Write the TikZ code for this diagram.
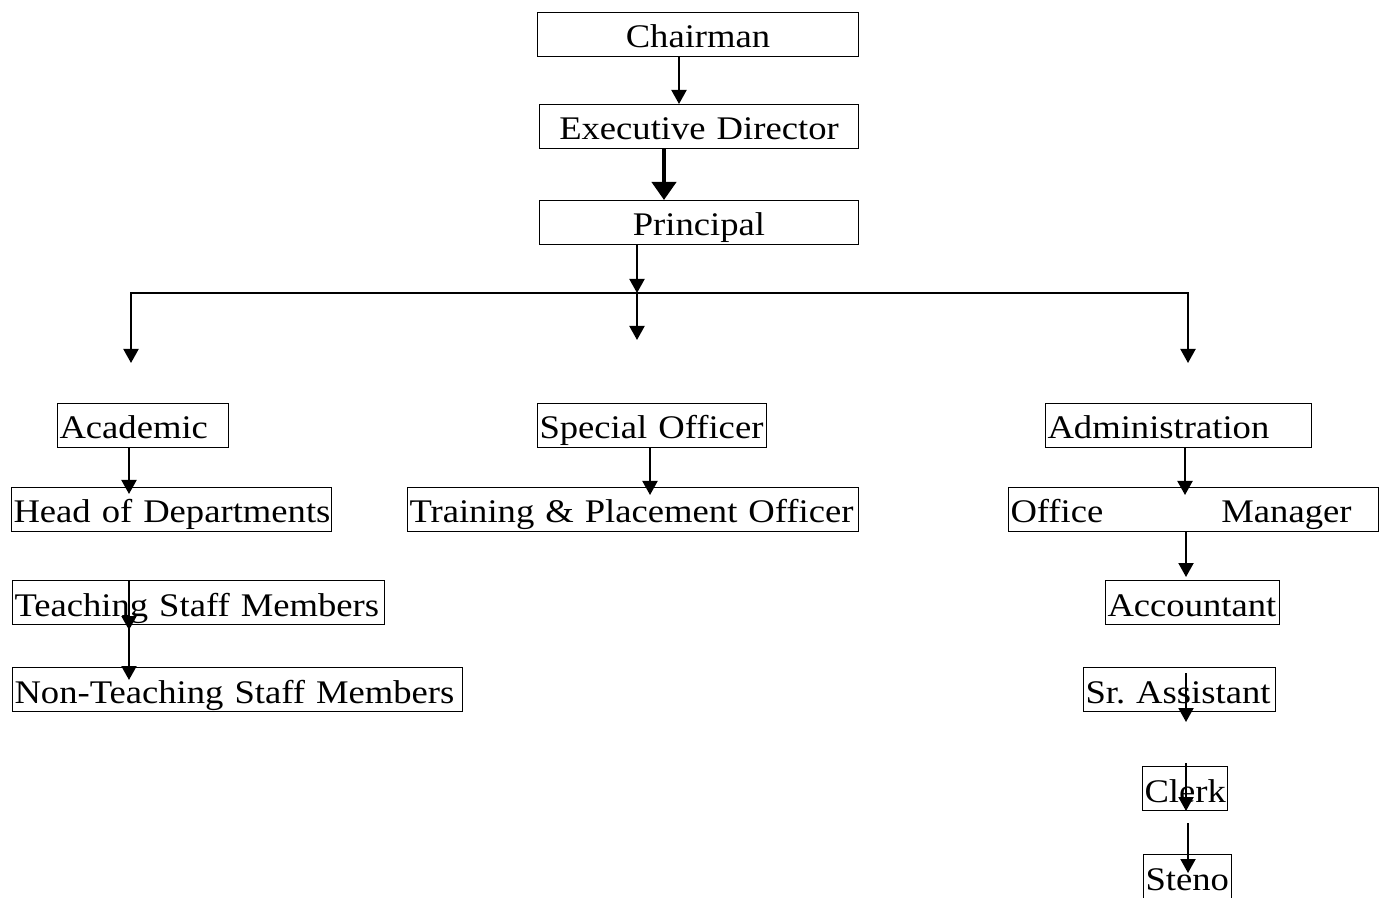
\documentclass[tikz,border=0pt]{standalone}
\usepackage{fontspec}
\setmainfont[FakeStretch=1.11]{Liberation Serif}
\usetikzlibrary{arrows.meta,calc}
\tikzset{
  box/.style={draw,line width=0.5pt,anchor=north west,inner xsep=1pt,inner ysep=0pt,
    minimum height=22pt,text height=13.5pt,text depth=0pt,text width=#1,align=left,
    execute at begin node={\hyphenpenalty=10000 \exhyphenpenalty=10000 }},
  cbox/.style={box=#1,align=center},
  arr/.style={line width=1pt,-{Triangle[width=7.5pt,length=7pt]}},
  bigarr/.style={line width=2pt,-{Triangle[width=12pt,length=9pt]}}
}
\begin{document}
\begin{tikzpicture}[x=0.5pt,y=-0.5pt,font=\fontsize{16.5}{18}\selectfont]
    \useasboundingbox (0,0) rectangle (1387,898);
    \clip (0,0) rectangle (1387,898);
    % top of the chart
    \node[cbox=158.5pt] (chair) at (537,12) {Chairman};
    \node[cbox=157.5pt] (exec) at (539,104) {Executive~Director};
    \node[cbox=157.5pt] (princ) at (539,200) {Principal};
    % three branches
    \node[box=83.5pt] (acad) at (57,403) {Academic};
    \node[box=112.5pt] (spec) at (537,403) {Special~Officer};
    \node[box=131pt] (admin) at (1045,403) {Administration};
    \node[box=158pt] (hod) at (11,487) {Head~of~Departments};
    \node[box=223.5pt] (tpo) at (407,487) {Training~\&~Placement~Officer};
    \node[box=183pt] (office) at (1008,487) {\mbox{Office\hspace{59pt}Manager}};
    \node[box=184pt] (teach) at (12,580) {Teaching~Staff~Members};
    \node[box=85pt] (acct) at (1105,580) {Accountant};
    \node[box=223pt] (nonteach) at (12,667) {Non-Teaching~Staff~Members};
    \node[box=94pt] (srasst) at (1083,667) {Sr.~Assistant};
    \node[box=40.5pt] (clerk) at (1142,766) {Clerk};
    \node[box=42pt,minimum height=26pt,text depth=4pt] (steno) at (1143,854) {Steno};
    \coordinate (hub) at (637,293);
    \coordinate (mid) at (637,340);
    \coordinate (lftend) at (131,363);
    \coordinate (rgtend) at (1188,363);
    % connectors
    \draw[arr] (679,0 |- chair.south) -- (679,0 |- exec.north);
    \draw[bigarr] (664,0 |- exec.south) -- (664,0 |- princ.north);
    \draw[arr] (637,0 |- princ.south) -- (hub);
    \draw[arr] (hub) -- (mid);
    \draw[arr] (hub) -| (lftend);
    \draw[arr] (hub) -| (rgtend);
    \draw[arr,shorten >=-3.5pt] (129,0 |- acad.south) -- (129,0 |- hod.north);
    \draw[arr,shorten >=-4pt] (650,0 |- spec.south) -- (650,0 |- tpo.north);
    \draw[arr,shorten >=-4pt] (1185,0 |- admin.south) -- (1185,0 |- office.north);
    \draw[arr,shorten >=1.5pt] (1186,0 |- office.south) -- (1186,0 |- acct.north);
    \draw[arr,shorten >=-2.5pt] (129,0 |- teach.north) -- (129,0 |- teach.south);
    \draw[arr,shorten <=-2.5pt,shorten >=-6.5pt] (129,0 |- teach.south) -- (129,0 |- nonteach.north);
    \draw[arr,shorten <=3pt,shorten >=-5pt] (1186,0 |- srasst.north) -- (1186,0 |- srasst.south);
    \draw[arr,shorten <=-1.5pt] (1186,0 |- clerk.north) -- (1186,0 |- clerk.south);
    \draw[arr,shorten <=6pt,shorten >=-9.5pt] (1188,0 |- clerk.south) -- (1188,0 |- steno.north);
\end{tikzpicture}
\end{document}
